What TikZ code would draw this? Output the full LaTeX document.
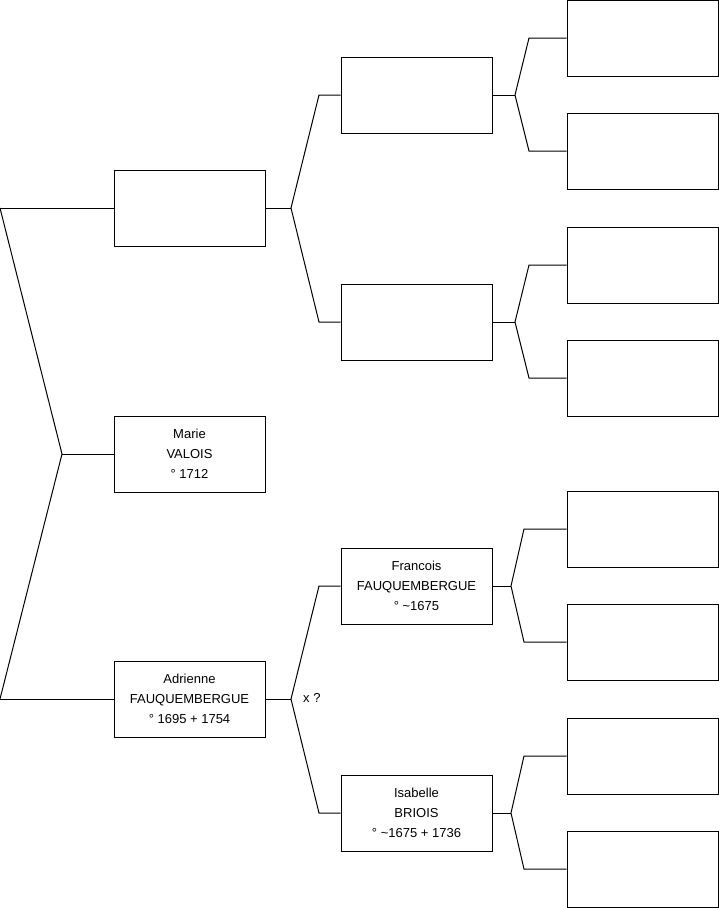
\documentclass[tikz,border=0pt]{standalone}
\usepackage{fontspec}
\setmainfont{Liberation Sans}

\tikzset{
  person/.style={draw, line width=1pt, fill=white, minimum width=151pt, minimum height=76pt,
    inner sep=0pt, align=center, font=\fontsize{13}{20}\selectfont},
  link/.style={line width=1pt}
}

\begin{document}
\begin{tikzpicture}[x=1pt, y=-1pt]
    \useasboundingbox (0,0) rectangle (719,908);

    % Draw nodes
    \node[person] (father) at (189.5,208) {};
    \node[person] (marie) at (189.5,454) {Marie\\VALOIS\\° 1712};
    \node[person] (adrienne) at (189.5,699) {Adrienne\\FAUQUEMBERGUE\\° 1695 + 1754};

    \node[person] (ffather) at (416.5,95) {};
    \node[person] (fmother) at (416.5,322) {};
    \node[person] (francois) at (416.5,586) {Francois\\FAUQUEMBERGUE\\° \textasciitilde1675};
    \node[person] (isabelle) at (416.5,813) {Isabelle\\BRIOIS\\° \textasciitilde1675 + 1736};

    \node[person] (fff) at (642.5,38) {};
    \node[person] (ffm) at (642.5,151) {};
    \node[person] (fmf) at (642.5,265) {};
    \node[person] (fmm) at (642.5,378) {};
    \node[person] (francoisf) at (642.5,529) {};
    \node[person] (francoism) at (642.5,642) {};
    \node[person] (isabellef) at (642.5,756) {};
    \node[person] (isabellem) at (642.5,869) {};

    \node[anchor=west, inner sep=0pt, font=\fontsize{13}{20}\selectfont] (xq) at (303,698) {x ?};

    % Fork points
    \coordinate (l1) at (0,208);
    \coordinate (l2) at (0,699);
    \coordinate (k1) at (62,454);
    \coordinate (k2) at (291,208);
    \coordinate (k3) at (291,699);
    \coordinate (k4) at (515,95);
    \coordinate (k5) at (515,322);
    \coordinate (k6) at (511,586);
    \coordinate (k7) at (511,813);

    % Draw connections
    \draw[link] (l1) -- (father.west);
    \draw[link] (l2) -- (adrienne.west);
    \draw[link] (l1) -- (k1) -- (l2);
    \draw[link] (k1) -- (marie.west);

    \draw[link] (father.east) -- (k2);
    \draw[link] (ffather.west) -- (319,95) -- (k2) -- (319,322) -- (fmother.west);
    \draw[link] (adrienne.east) -- (k3);
    \draw[link] (francois.west) -- (319,586) -- (k3) -- (319,813) -- (isabelle.west);

    \draw[link] (ffather.east) -- (k4);
    \draw[link] (fff.west) -- (529,38) -- (k4) -- (529,151) -- (ffm.west);
    \draw[link] (fmother.east) -- (k5);
    \draw[link] (fmf.west) -- (529,265) -- (k5) -- (529,378) -- (fmm.west);
    \draw[link] (francois.east) -- (k6);
    \draw[link] (francoisf.west) -- (524,529) -- (k6) -- (524,642) -- (francoism.west);
    \draw[link] (isabelle.east) -- (k7);
    \draw[link] (isabellef.west) -- (524,756) -- (k7) -- (524,869) -- (isabellem.west);
\end{tikzpicture}
\end{document}
